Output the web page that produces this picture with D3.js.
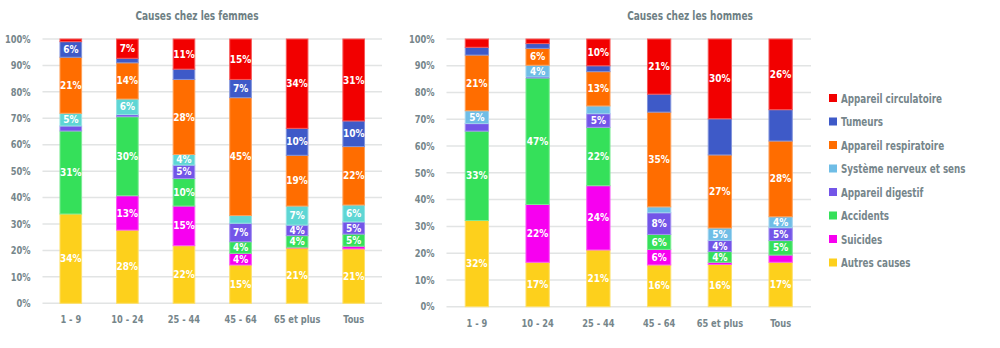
<!DOCTYPE html>
<html>
<head>
<meta charset="utf-8">
<script src="https://cdn.jsdelivr.net/npm/d3@7"></script>
<style>
  body { margin: 0; background: #fff; }
  svg text { font-family: "DejaVu Sans Condensed", "DejaVu Sans", sans-serif; font-stretch: condensed; font-weight: bold; }
</style>
</head>
<body>
<script>
const ageGroups = ["1 - 9", "10 - 24", "25 - 44", "45 - 64", "65 et plus", "Tous"];
const causes = ["Autres causes", "Suicides", "Accidents", "Appareil digestif",
                "Système nerveux et sens", "Appareil respiratoire", "Tumeurs", "Appareil circulatoire"];
const yTicks = [0, 10, 20, 30, 40, 50, 60, 70, 80, 90, 100];

// percentages per cause, one value per age group
const femmesAutres       = [33.8, 27.7, 21.8, 14.5, 20.8, 20.6];
const femmesSuicides     = [0.0, 13.0, 15.0, 4.4, 0.4, 1.0];
const femmesAccidents    = [31.4, 29.9, 10.4, 4.4, 4.4, 4.6];
const femmesDigestif     = [1.9, 0.8, 5.1, 7.0, 4.0, 4.6];
const femmesNerveux      = [4.8, 5.9, 4.0, 2.9, 7.2, 6.4];
const femmesRespiratoire = [21.2, 13.7, 28.4, 44.6, 19.2, 22.1];
const femmesTumeurs      = [5.9, 1.7, 3.9, 6.9, 10.2, 9.7];
const femmesCirculatoire = [1.0, 7.3, 11.4, 15.3, 33.8, 31.0];

const hommesAutres       = [32.2, 16.6, 21.2, 15.6, 15.8, 16.6];
const hommesSuicides     = [0.0, 21.6, 24.0, 5.8, 0.8, 2.7];
const hommesAccidents    = [33.4, 47.1, 21.8, 5.6, 4.0, 5.4];
const hommesDigestif     = [2.8, 0.5, 5.1, 8.1, 4.2, 4.8];
const hommesNerveux      = [4.8, 4.4, 2.9, 2.2, 4.6, 4.1];
const hommesRespiratoire = [20.8, 6.3, 12.8, 35.4, 27.3, 28.3];
const hommesTumeurs      = [2.9, 1.8, 2.2, 6.7, 13.5, 11.7];
const hommesCirculatoire = [3.1, 1.7, 10.0, 20.6, 29.8, 26.4];

const colorsFemmes = ["#fdd01c", "#f700f0", "#35e05a", "#7355e8", "#5ed6d4", "#ff6d00", "#3e5ac8", "#f20000"];
const colorsHommes = ["#fdd01c", "#f700f0", "#35e05a", "#7355e8", "#6fbde6", "#ff6d00", "#3e5ac8", "#f20000"];

const textGrey = "#76868b";

const svg = d3.select("body").append("svg")
  .attr("width", 1000)
  .attr("height", 348);

// the original font is narrower than anything installed, so squeeze glyphs a bit
function squeeze(sel, k) {
  sel.each(function () {
    const len = this.getComputedTextLength();
    d3.select(this)
      .attr("textLength", len * k)
      .attr("lengthAdjust", "spacingAndGlyphs");
  });
}

function buildRows(series) {
  return ageGroups.map((g, i) => {
    const row = { group: g };
    causes.forEach((c, k) => row[c] = series[k][i]);
    return row;
  });
}

function drawChart(opts) {
  const rows = buildRows(opts.series);
  const stack = d3.stack().keys(causes)(rows);

  const x = d3.scaleBand()
    .domain(ageGroups)
    .range([opts.left, opts.right])
    .paddingInner(0.6)
    .paddingOuter(0.3);
  const y = d3.scaleLinear().domain([0, 100]).range([opts.bottom, opts.top]);
  const color = d3.scaleOrdinal().domain(causes).range(opts.colors);

  const g = svg.append("g");

  g.append("text")
    .attr("x", opts.titleX)
    .attr("y", 20)
    .attr("text-anchor", "middle")
    .attr("fill", "#6e7f84")
    .style("font-size", "12.5px")
    .text(opts.title)
    .call(squeeze, 0.8);

  // grid
  g.append("g")
    .selectAll("line")
    .data(yTicks)
    .enter()
    .append("line")
    .attr("x1", opts.left)
    .attr("x2", opts.right)
    .attr("y1", d => y(d))
    .attr("y2", d => y(d))
    .attr("stroke", "#e2e4e4")
    .attr("stroke-width", 1.5);

  const yAxis = g.append("g")
    .attr("transform", "translate(" + (opts.left - 9) + ",0)")
    .call(d3.axisLeft(y).tickValues(yTicks).tickFormat(d => d + "%").tickSize(0));
  yAxis.select(".domain").remove();
  yAxis.selectAll("text")
    .attr("fill", textGrey)
    .style("font-size", "10px")
    .call(squeeze, 0.92);

  const xAxis = g.append("g")
    .attr("transform", "translate(0," + (opts.bottom + 10) + ")")
    .call(d3.axisBottom(x).tickSize(0));
  xAxis.select(".domain").remove();
  xAxis.selectAll("text")
    .attr("fill", textGrey)
    .style("font-size", "10px")
    .call(squeeze, 0.92);

  const layer = g.selectAll(".layer")
    .data(stack)
    .enter()
    .append("g")
    .attr("class", "layer")
    .attr("fill", d => color(d.key))
    .attr("stroke", d => d3.interpolateRgb(color(d.key), "#fff")(0.35));

  layer.selectAll("rect")
    .data(d => d)
    .enter()
    .append("rect")
    .attr("x", d => x(d.data.group) + 0.5)
    .attr("width", x.bandwidth() - 1)
    .attr("y", d => y(d[1]))
    .attr("height", d => Math.max(0, y(d[0]) - y(d[1])))
    .attr("stroke-width", d => (d[1] - d[0]) > 0.5 ? 1 : 0);

  layer.each(function (s) {
    if (opts.noLabel.includes(s.key)) return;
    d3.select(this).selectAll("text")
      .data(s.filter(d => d[1] - d[0] >= 3.95))
      .enter()
      .append("text")
      .attr("x", d => x(d.data.group) + x.bandwidth() / 2)
      .attr("y", d => (y(d[0]) + y(d[1])) / 2)
      .attr("dy", "0.36em")
      .attr("text-anchor", "middle")
      .attr("fill", "#fff")
      .attr("stroke", "none")
      .style("font-size", "10px")
      .text(d => Math.round(d[1] - d[0]) + "%");
  });
}

drawChart({
  title: "Causes chez les femmes",
  titleX: 197,
  left: 42.5, right: 382, top: 39, bottom: 303.3,
  colors: colorsFemmes,
  noLabel: [],
  series: [femmesAutres, femmesSuicides, femmesAccidents, femmesDigestif,
           femmesNerveux, femmesRespiratoire, femmesTumeurs, femmesCirculatoire]
});

drawChart({
  title: "Causes chez les hommes",
  titleX: 690,
  left: 446.5, right: 811, top: 39, bottom: 306.7,
  colors: colorsHommes,
  noLabel: ["Tumeurs"],
  series: [hommesAutres, hommesSuicides, hommesAccidents, hommesDigestif,
           hommesNerveux, hommesRespiratoire, hommesTumeurs, hommesCirculatoire]
});

// legend, top entry is the top of the stack
const legendItems = causes.slice().reverse();
const legendColor = d3.scaleOrdinal().domain(causes).range(colorsHommes);
const legend = svg.append("g")
  .attr("transform", "translate(829,98)")
  .selectAll("g")
  .data(legendItems)
  .enter()
  .append("g")
  .attr("transform", (d, i) => "translate(0," + (i * 23.5) + ")");

legend.append("rect")
  .attr("x", 0)
  .attr("y", -4)
  .attr("width", 8)
  .attr("height", 8)
  .attr("fill", d => legendColor(d));

legend.append("text")
  .attr("x", 12)
  .attr("y", 0)
  .attr("dy", "0.36em")
  .attr("fill", textGrey)
  .style("font-size", "12.5px")
  .text(d => d)
  .call(squeeze, 0.78);
</script>
</body>
</html>
